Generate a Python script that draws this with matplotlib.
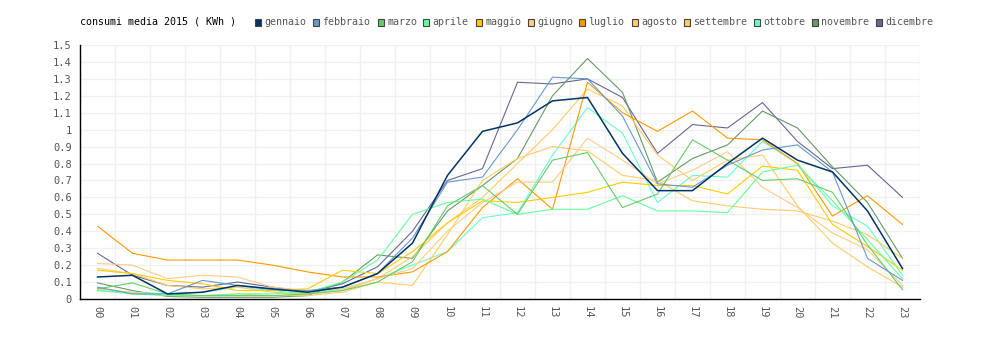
import matplotlib
matplotlib.use("Agg")
import matplotlib.pyplot as plt
from matplotlib.patches import Rectangle
import numpy as np

hours = ["%02d" % h for h in range(24)]

months = ["gennaio", "febbraio", "marzo", "aprile", "maggio", "giugno",
          "luglio", "agosto", "settembre", "ottobre", "novembre", "dicembre"]
colors = ["#003366", "#6699cc", "#66cc66", "#66ff99", "#ffcc00", "#ffcc88",
          "#ff9900", "#ffcc66", "#ffcc66", "#66ffcc", "#669966", "#666699"]

gennaio = [0.13, 0.14, 0.03, 0.04, 0.08, 0.06, 0.04, 0.07, 0.15, 0.33, 0.73, 0.99,
           1.04, 1.17, 1.19, 0.86, 0.64, 0.64, 0.80, 0.95, 0.82, 0.75, 0.52, 0.18]
febbraio = [0.07, 0.03, 0.03, 0.11, 0.08, 0.055, 0.05, 0.07, 0.15, 0.36, 0.69, 0.72,
            1.00, 1.31, 1.30, 1.08, 0.68, 0.66, 0.79, 0.88, 0.91, 0.75, 0.24, 0.11]
marzo = [0.06, 0.095, 0.03, 0.02, 0.02, 0.02, 0.03, 0.05, 0.10, 0.22, 0.55, 0.67,
         0.50, 0.82, 0.865, 0.54, 0.62, 0.94, 0.82, 0.70, 0.71, 0.63, 0.32, 0.055]
aprile = [0.05, 0.03, 0.02, 0.02, 0.03, 0.03, 0.04, 0.10, 0.23, 0.50, 0.57, 0.59,
          0.50, 0.53, 0.53, 0.61, 0.52, 0.52, 0.51, 0.75, 0.79, 0.58, 0.35, 0.12]
maggio = [0.17, 0.15, 0.11, 0.09, 0.05, 0.05, 0.06, 0.17, 0.15, 0.28, 0.45, 0.58,
          0.57, 0.60, 0.63, 0.69, 0.67, 0.67, 0.62, 0.785, 0.76, 0.44, 0.31, 0.17]
giugno = [0.21, 0.20, 0.12, 0.14, 0.13, 0.07, 0.05, 0.06, 0.12, 0.18, 0.40, 0.57,
          0.69, 0.69, 0.95, 0.82, 0.68, 0.76, 0.87, 0.66, 0.54, 0.39, 0.29, 0.08]
luglio = [0.43, 0.27, 0.23, 0.23, 0.23, 0.20, 0.16, 0.13, 0.13, 0.16, 0.28, 0.54,
          0.71, 0.53, 1.28, 1.10, 0.99, 1.11, 0.95, 0.94, 0.80, 0.49, 0.61, 0.44]
agosto = [0.06, 0.04, 0.02, 0.02, 0.03, 0.02, 0.02, 0.04, 0.10, 0.08, 0.38, 0.70,
          0.83, 0.90, 0.875, 0.73, 0.70, 0.58, 0.55, 0.53, 0.52, 0.46, 0.38, 0.24]
settembre = [0.18, 0.15, 0.08, 0.06, 0.07, 0.04, 0.03, 0.05, 0.12, 0.25, 0.45, 0.60,
             0.80, 1.00, 1.24, 1.14, 0.85, 0.70, 0.82, 0.85, 0.55, 0.33, 0.19, 0.07]
ottobre = [0.05, 0.04, 0.03, 0.04, 0.07, 0.05, 0.03, 0.06, 0.12, 0.20, 0.28, 0.48,
           0.51, 0.85, 1.13, 0.98, 0.57, 0.73, 0.72, 0.93, 0.80, 0.55, 0.43, 0.14]
novembre = [0.095, 0.05, 0.015, 0.01, 0.01, 0.01, 0.02, 0.10, 0.26, 0.24, 0.52, 0.67,
            0.83, 1.20, 1.42, 1.22, 0.69, 0.83, 0.91, 1.11, 1.01, 0.78, 0.57, 0.24]
dicembre = [0.27, 0.14, 0.08, 0.07, 0.10, 0.07, 0.04, 0.09, 0.19, 0.40, 0.70, 0.77,
            1.28, 1.27, 1.30, 1.19, 0.86, 1.03, 1.01, 1.16, 0.93, 0.77, 0.79, 0.60]

series = [gennaio, febbraio, marzo, aprile, maggio, giugno,
          luglio, agosto, settembre, ottobre, novembre, dicembre]

plt.rcParams['font.family'] = ['DejaVu Sans Mono']
fig = plt.figure(figsize=(10, 3.4), dpi=100)
ax = fig.add_axes([0.08, 1 - 299 / 340, 0.84, 254 / 340])

x = np.arange(24)
for i in range(len(series) - 1, -1, -1):
    lw = 1.1 if i == 0 else 0.8
    ax.plot(x, series[i], color=colors[i], lw=lw, zorder=3 + (12 - i) * 0.01)

ax.set_xlim(-0.5, 23.5)
ax.set_ylim(0, 1.5)
yt = np.round(np.arange(0, 1.51, 0.1), 1)
ax.set_yticks(yt)
ax.set_yticklabels([("%g" % v) for v in yt], color="#555555", fontsize=7.5)
ax.set_xticks(x)
ax.set_xticklabels(hours, rotation=270, color="#555555", fontsize=7.5)
ax.set_xticks(np.arange(-0.5, 24, 1), minor=True)
ax.tick_params(axis="both", which="both", length=0)
ax.tick_params(axis="y", pad=6)
ax.tick_params(axis="x", pad=5)
ax.grid(False)
ax.grid(True, axis="y", which="major", color="#f0f0f0", lw=1, zorder=0)
ax.grid(True, axis="x", which="minor", color="#f0f0f0", lw=1, zorder=0)
for s in ["top", "right"]:
    ax.spines[s].set_visible(False)
ax.spines["left"].set_color("black")
ax.spines["bottom"].set_color("black")
ax.spines["left"].set_linewidth(1)
ax.spines["bottom"].set_linewidth(1)

# titolo + legenda orizzontale
H = 340.0
fig.text(80 / 1000, 1 - 22 / H, "consumi media 2015 ( KWh )", fontsize=7.2,
         color="black", va="center", ha="left")
legend_x = [255, 313, 378, 423, 476, 528, 579, 632, 684, 754, 812, 876]
for i, m in enumerate(months):
    fig.patches.append(Rectangle((legend_x[i] / 1000, 1 - 25.5 / H), 6 / 1000, 6 / H,
                                 transform=fig.transFigure, facecolor=colors[i],
                                 edgecolor="#444444", lw=0.8))
    fig.text((legend_x[i] + 9) / 1000, 1 - 22 / H, m, fontsize=7.2,
             color="#555555", va="center", ha="left")

fig.savefig("out.png", dpi=100)
